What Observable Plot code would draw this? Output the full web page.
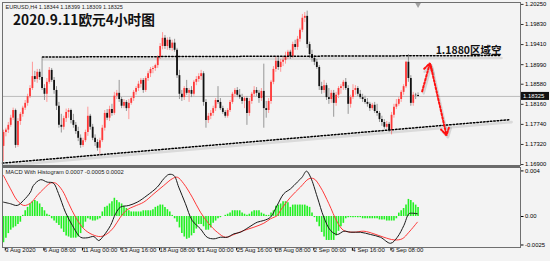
<!DOCTYPE html>
<html><head><meta charset="utf-8">
<script src="https://cdn.jsdelivr.net/npm/d3@7"></script>
<script src="https://cdn.jsdelivr.net/npm/@observablehq/plot@0.6"></script>
<style>
html,body{margin:0;padding:0;background:#f3f3f3;}
#chart{position:relative;width:550px;height:261px;overflow:hidden;background:#f3f3f3;}
#chart svg{position:absolute;left:0;top:0;overflow:visible;}
</style></head><body><div id="chart"></div>
<script>
// ---------- DATA ----------
const symbol = "EURUSD,H4";
const titleText = "2020.9.11欧元4小时图";
const zoneLabel = "1.1880区域空";
const tickIndex = [0,16,32,48,64,80,96,112,128,144,160];
const tickLabels = ["3 Aug 2020","6 Aug 08:00","11 Aug 00:00","13 Aug 16:00","18 Aug 08:00","21 Aug 00:00","25 Aug 16:00","28 Aug 08:00","2 Sep 00:00","4 Sep 16:00","9 Sep 08:00"];
const priceTicks = [1.20250,1.19830,1.19410,1.18990,1.18580,1.18160,1.17740,1.17320,1.16900];
const macdTicks = [0.004, 0, -0.0025];
const macdTickLabels = ["0.004","0.00","-0.0025"];
const macdReadout = ["0.0007","-0.0005","0.0002"];

const open = [
1.1728,1.1757,1.1762,1.1772,1.1787,1.1803,1.1730,1.1780,1.1795,1.1808,
1.1818,1.1832,1.1849,1.1874,1.1868,1.1883,1.1872,1.1849,1.1837,1.1862,
1.1887,1.1866,1.1845,1.1812,1.1772,1.1768,1.1786,1.1799,1.1803,1.1782,
1.1772,1.1759,1.1745,1.1730,1.1740,1.1757,1.1791,1.1768,1.1745,1.1736,
1.1724,1.1740,1.1766,1.1797,1.1787,1.1805,1.1797,1.1833,1.1839,1.1826,
1.1812,1.1820,1.1807,1.1818,1.1828,1.1841,1.1849,1.1858,1.1866,1.1845,
1.1870,1.1880,1.1889,1.1891,1.1897,1.1914,1.1937,1.1954,1.1937,1.1950,
1.1933,1.1944,1.1929,1.1876,1.1837,1.1830,1.1849,1.1839,1.1845,1.1837,
1.1862,1.1868,1.1874,1.1880,1.1820,1.1782,1.1791,1.1797,1.1807,1.1824,
1.1820,1.1807,1.1799,1.1791,1.1803,1.1820,1.1837,1.1845,1.1835,1.1830,
1.1822,1.1828,1.1797,1.1822,1.1837,1.1845,1.1839,1.1828,1.1843,1.1807,
1.1803,1.1822,1.1862,1.1889,1.1906,1.1893,1.1904,1.1908,1.1916,1.1925,
1.1916,1.1941,1.1935,1.1952,1.1971,1.1996,1.2000,1.1941,1.1920,1.1912,
1.1904,1.1893,1.1853,1.1845,1.1855,1.1830,1.1826,1.1839,1.1818,1.1835,
1.1849,1.1853,1.1862,1.1849,1.1816,1.1830,1.1845,1.1849,1.1837,1.1830,
1.1826,1.1820,1.1816,1.1807,1.1814,1.1801,1.1797,1.1784,1.1778,1.1768,
1.1774,1.1761,1.1793,1.1810,1.1816,1.1826,1.1841,1.1853,1.1904,1.1870,
1.1818,1.1835,1.18344];
const high = [
1.1762,1.1766,1.1778,1.1793,1.1808,1.1806,1.1786,1.1799,1.1812,1.1824,
1.1837,1.1855,1.1904,1.1885,1.1889,1.1889,1.1914,1.1857,1.1870,1.1893,
1.1891,1.1872,1.1853,1.1820,1.1795,1.1791,1.1806,1.1807,1.1806,1.1795,
1.1778,1.1768,1.1752,1.1745,1.1762,1.1810,1.1795,1.1774,1.1752,1.1742,
1.1745,1.1772,1.1803,1.1805,1.1812,1.1816,1.1841,1.1845,1.1866,1.1830,
1.1826,1.1824,1.1826,1.1832,1.1845,1.1853,1.1864,1.1870,1.1870,1.1874,
1.1885,1.1893,1.1895,1.1900,1.1918,1.1943,1.1966,1.1960,1.1955,1.1956,
1.1950,1.1952,1.1933,1.1887,1.1845,1.1853,1.1866,1.1849,1.1853,1.1866,
1.1874,1.1880,1.1887,1.1884,1.1826,1.1797,1.1803,1.1812,1.1828,1.1853,
1.1828,1.1812,1.1803,1.1807,1.1824,1.1841,1.1849,1.1851,1.1847,1.1837,
1.1832,1.1832,1.1828,1.1841,1.1853,1.1851,1.1845,1.1849,1.1900,1.1822,
1.1828,1.1866,1.1895,1.1916,1.1916,1.1910,1.1916,1.1925,1.1929,1.1929,
1.1946,1.1950,1.1958,1.1975,1.2004,1.2008,1.2011,1.1946,1.1929,1.1918,
1.1910,1.1897,1.1862,1.1866,1.1860,1.1849,1.1845,1.1845,1.1841,1.1853,
1.1857,1.1866,1.1870,1.1855,1.1835,1.1857,1.1855,1.1853,1.1845,1.1837,
1.1833,1.1828,1.1820,1.1818,1.1820,1.1816,1.1801,1.1791,1.1784,1.1780,
1.1778,1.1799,1.1816,1.1826,1.1830,1.1845,1.1857,1.1906,1.1920,1.1876,
1.1841,1.1839,1.18399];
const low = [
1.1696,1.1748,1.1755,1.1768,1.1782,1.1724,1.1726,1.1772,1.1789,1.1803,
1.1812,1.1828,1.1845,1.1862,1.1860,1.1866,1.1845,1.1824,1.1820,1.1858,
1.1862,1.1837,1.1803,1.1766,1.1756,1.1762,1.1778,1.1787,1.1775,1.1766,
1.1753,1.1738,1.1724,1.1726,1.1736,1.1749,1.1762,1.1740,1.1728,1.1718,
1.1711,1.1736,1.1760,1.1782,1.1780,1.1791,1.1793,1.1826,1.1820,1.1807,
1.1807,1.1801,1.1784,1.1814,1.1822,1.1835,1.1843,1.1850,1.1839,1.1841,
1.1864,1.1872,1.1880,1.1885,1.1891,1.1910,1.1930,1.1931,1.1929,1.1929,
1.1927,1.1925,1.1870,1.1826,1.1822,1.1824,1.1835,1.1820,1.1830,1.1833,
1.1855,1.1862,1.1866,1.1812,1.1766,1.1776,1.1784,1.1791,1.1801,1.1816,
1.1803,1.1795,1.1787,1.1787,1.1799,1.1816,1.1830,1.1830,1.1826,1.1816,
1.1807,1.1772,1.1791,1.1816,1.1832,1.1832,1.1818,1.1822,1.1766,1.1787,
1.1797,1.1816,1.1857,1.1883,1.1887,1.1883,1.1895,1.1900,1.1910,1.1910,
1.1912,1.1929,1.1929,1.1946,1.1966,1.1987,1.1933,1.1912,1.1904,1.1897,
1.1889,1.1845,1.1837,1.1839,1.1824,1.1816,1.1818,1.1789,1.1812,1.1828,
1.1837,1.1845,1.1845,1.1795,1.1808,1.1826,1.1835,1.1832,1.1826,1.1820,
1.1816,1.1810,1.1801,1.1803,1.1797,1.1791,1.1778,1.1770,1.1764,1.1764,
1.1757,1.1752,1.1787,1.1805,1.1812,1.1820,1.1835,1.1849,1.1862,1.1812,
1.1812,1.1826,1.18309];
const close = [
1.1757,1.1762,1.1772,1.1787,1.1803,1.1730,1.1780,1.1795,1.1808,1.1818,
1.1832,1.1849,1.1874,1.1868,1.1883,1.1872,1.1849,1.1837,1.1862,1.1887,
1.1866,1.1845,1.1812,1.1772,1.1768,1.1786,1.1799,1.1803,1.1782,1.1772,
1.1759,1.1745,1.1730,1.1740,1.1757,1.1791,1.1768,1.1745,1.1736,1.1724,
1.1740,1.1766,1.1797,1.1787,1.1805,1.1797,1.1833,1.1839,1.1826,1.1812,
1.1820,1.1807,1.1818,1.1828,1.1841,1.1849,1.1858,1.1866,1.1845,1.1870,
1.1880,1.1889,1.1891,1.1897,1.1914,1.1937,1.1954,1.1937,1.1950,1.1933,
1.1944,1.1929,1.1876,1.1837,1.1830,1.1849,1.1839,1.1845,1.1837,1.1862,
1.1868,1.1874,1.1880,1.1820,1.1782,1.1791,1.1797,1.1807,1.1824,1.1820,
1.1807,1.1799,1.1791,1.1803,1.1820,1.1837,1.1845,1.1835,1.1830,1.1822,
1.1828,1.1797,1.1822,1.1837,1.1845,1.1839,1.1828,1.1843,1.1807,1.1803,
1.1822,1.1862,1.1889,1.1906,1.1893,1.1904,1.1908,1.1916,1.1925,1.1916,
1.1941,1.1935,1.1952,1.1971,1.1996,1.2000,1.1941,1.1920,1.1912,1.1904,
1.1893,1.1853,1.1845,1.1855,1.1830,1.1826,1.1839,1.1818,1.1835,1.1849,
1.1853,1.1862,1.1849,1.1816,1.1830,1.1845,1.1849,1.1837,1.1830,1.1826,
1.1820,1.1816,1.1807,1.1814,1.1801,1.1797,1.1784,1.1778,1.1768,1.1774,
1.1761,1.1793,1.1810,1.1816,1.1826,1.1841,1.1853,1.1904,1.1870,1.1818,
1.1835,1.1834,1.18325];

const hist = [
-0.0023,-0.0019,-0.0015,-0.0012,-0.0010,-0.0009,-0.0007,-0.0005,0.0001,0.0005,
0.0008,0.0011,0.0013,0.0014,0.0013,0.0011,0.0008,0.0005,0.0002,0.0001,
-0.0002,-0.0004,-0.0006,-0.0008,-0.0011,-0.0014,-0.0017,-0.0018,-0.0019,-0.0019,
-0.0019,-0.0018,-0.0015,-0.0010,-0.0005,-0.0002,-0.0003,-0.0004,-0.0004,-0.0003,
-0.0002,0.0004,0.0008,0.0009,0.0011,0.0013,0.0016,0.0014,0.0012,0.0011,
0.0009,0.0007,0.0005,0.0004,0.0004,0.0004,0.0004,0.0004,0.0005,0.0005,
0.0005,0.0005,0.0006,0.0008,0.0009,0.0010,0.0010,0.0008,0.0006,0.0004,
0.0001,-0.0002,-0.0005,-0.0010,-0.0015,-0.0018,-0.0020,-0.0019,-0.0017,-0.0015,
-0.0011,-0.0007,-0.0007,-0.0009,-0.0012,-0.0012,-0.0010,-0.0006,-0.0004,-0.0002,
-0.0001,0.0000,0.0001,0.0002,0.0003,0.0005,0.0005,0.0005,0.0005,0.0003,
0.0002,0.0001,0.0002,0.0004,0.0005,0.0005,0.0005,0.0003,0.0002,0.0001,
0.0001,0.0003,0.0005,0.0009,0.0010,0.0011,0.0013,0.0013,0.0012,0.0008,
0.0010,0.0010,0.0010,0.0010,0.0010,0.0010,0.0009,0.0008,0.0003,-0.0001,
-0.0005,-0.0009,-0.0014,-0.0018,-0.0021,-0.0021,-0.0021,-0.0021,-0.0017,-0.0013,
-0.0009,-0.0006,-0.0002,-0.0001,-0.0001,-0.0001,-0.0001,-0.0001,-0.0001,-0.0002,
-0.0002,-0.0002,-0.0002,-0.0002,-0.0002,-0.0002,-0.0003,-0.0003,-0.0003,-0.0004,
-0.0004,-0.0004,-0.0004,-0.0002,0.0003,0.0005,0.0007,0.0010,0.0015,0.0014,
0.0012,0.0010,0.0008];

// MACD main line (black), read at sample bar positions
const macdIdx = [0,2.9,5.7,8.3,11.2,12.4,15.4,18.1,20.7,22.8,25.7,28.6,32.0,34.7,37.5,39.5,41.6,44.4,46.5,48.5,52.0,55.5,59.6,63.8,66.5,68.6,70.7,72.7,75.5,78.3,81.7,84.5,87.3,90.0,92.8,95.6,98.3,101.8,105.3,108.0,110.8,113.6,116.3,119.1,121.9,123.9,125.7,127.4,130.2,132.9,135.7,138.5,141.2,144.0,148.1,152.3,156.4,160.6,163.4,166.1,168.2,169.6,171.7];
const macdVal = [0.00126,0.00112,0.00097,0.00141,0.00214,0.00272,0.00323,0.00302,0.00293,0.00202,0.00038,-0.00079,-0.00182,-0.00187,-0.00176,-0.00211,-0.00167,-0.00079,0.00024,0.00082,0.00097,0.00126,0.00185,0.00258,0.00331,0.00369,0.00360,0.00258,0.00112,-0.00035,-0.00108,-0.00182,-0.00196,-0.00182,-0.00182,-0.00152,-0.00138,-0.00094,-0.00050,-0.00035,-0.00006,0.00100,0.00200,0.00243,0.00302,0.00345,0.00398,0.00345,0.00170,-0.00006,-0.00123,-0.00158,-0.00129,-0.00138,-0.00138,-0.00158,-0.00182,-0.00235,-0.00182,-0.00079,0.00024,0.00029,0.00024];
// Signal line (red)
const signalIdx = [0,2.9,5.7,8.4,11.2,14.0,16.7,19.5,21.6,24.4,27.1,29.9,33.3,36.8,40.2,43.0,45.8,48.5,51.3,54.1,58.2,62.4,66.5,70.0,72.1,74.8,78.3,81.7,85.2,88.7,92.1,95.6,99.7,103.9,108.0,110.8,113.6,114.9,119.1,123.2,126.7,128.8,131.5,135.0,138.5,141.2,145.4,149.5,153.7,157.8,162.0,165.4,168.2,171.7];
const signalVal = [0.00360,0.00243,0.00141,0.00097,0.00117,0.00185,0.00243,0.00293,0.00293,0.00229,0.00112,-0.00006,-0.00108,-0.00158,-0.00176,-0.00152,-0.00094,-0.00006,0.00059,0.00088,0.00126,0.00200,0.00272,0.00331,0.00345,0.00287,0.00170,0.00038,-0.00064,-0.00138,-0.00182,-0.00158,-0.00123,-0.00094,-0.00059,-0.00020,0.00009,0.00053,0.00170,0.00258,0.00331,0.00331,0.00258,0.00112,-0.00050,-0.00123,-0.00138,-0.00129,-0.00152,-0.00182,-0.00205,-0.00196,-0.00138,-0.00050];

// Hand-drawn annotations (bar index, price)
const resistIdx = [16.2, 206.2], resistPrice = [1.1915, 1.1918];
const supportIdx = [-0.4, 210.4], supportPrice = [1.1693, 1.1784];
const arrowFromIdx = [173.7, 177.2], arrowFromPrice = [1.1843, 1.1898];
const arrowToIdx = [176.9, 183.8], arrowToPrice = [1.1902, 1.1751];
const zoneLabelIdx = 179.3, zoneLabelPrice = 1.1929;

// ---------- BUILD ----------
const W = 550, H = 261;
const xDomain = [-0.41, 214.5];
const font = "'Liberation Sans', Arial, sans-serif";
const cjk = "'Noto Sans CJK SC', 'Liberation Sans', sans-serif";
const bars = open.map((o, i) => ({i, o, h: high[i], l: low[i], c: close[i], up: close[i] > o}));
const upBars = bars.filter(d => d.up), dnBars = bars.filter(d => !d.up);
const last = bars[bars.length - 1];
const header = `${symbol} ${last.o.toFixed(5)} ${last.h.toFixed(5)} ${last.l.toFixed(5)} ${last.c.toFixed(5)}`;
const resist = resistIdx.map((x, k) => ({x, y: resistPrice[k]}));
const support = supportIdx.map((x, k) => ({x, y: supportPrice[k]}));
const arrows = arrowFromIdx.map((x1, k) => ({x1, y1: arrowFromPrice[k], x2: arrowToIdx[k], y2: arrowToPrice[k]}));
const dots = "1.5,1.9";

const pricePlot = Plot.plot({
  width: W, height: H, marginTop: 2, marginBottom: 96, marginLeft: 2, marginRight: 30,
  style: {background: "transparent", fontFamily: font, color: "#000", overflow: "visible"},
  x: {domain: xDomain, axis: null},
  y: {domain: [1.1688, 1.2029], axis: null},
  marks: [
    Plot.ruleY([last.c], {stroke: "#bdbdbd", strokeWidth: 1}),
    Plot.ruleX(upBars, {x: "i", y1: "l", y2: "h", stroke: "#ff8f8f", strokeWidth: 0.9}),
    Plot.ruleX(dnBars, {x: "i", y1: "l", y2: "h", stroke: "#8c8c8c", strokeWidth: 0.9}),
    Plot.ruleX(upBars, {x: "i", y1: "o", y2: "c", stroke: "#ff3838", strokeWidth: 1.8}),
    Plot.ruleX(dnBars, {x: "i", y1: "o", y2: "c", stroke: "#111", strokeWidth: 1.8}),
    // soft shadows of the drawn lines
    Plot.line(resist, {x: "x", y: "y", stroke: "#000", strokeOpacity: 0.1, strokeWidth: 2.6, dy: 2.5, dx: 1}),
    Plot.line(support, {x: "x", y: "y", stroke: "#000", strokeOpacity: 0.1, strokeWidth: 2.6, dy: 2.5, dx: 1}),
    Plot.arrow(arrows, {x1: "x1", y1: "y1", x2: "x2", y2: "y2", stroke: "#000", strokeOpacity: 0.12, strokeWidth: 2.4, headLength: 6, dx: 1.5, dy: 2}),
    Plot.line(resist, {x: "x", y: "y", stroke: "#000", strokeWidth: 1.5, strokeDasharray: dots}),
    Plot.line(support, {x: "x", y: "y", stroke: "#000", strokeWidth: 1.5, strokeDasharray: dots}),
    Plot.arrow(arrows, {x1: "x1", y1: "y1", x2: "x2", y2: "y2", stroke: "#ff1010", strokeWidth: 2, headLength: 6, strokeDasharray: "2,1.8"}),
    Plot.text([zoneLabel], {x: zoneLabelIdx, y: zoneLabelPrice, text: d => d, textAnchor: "start", fontSize: 10.5, fontWeight: "bold", fontFamily: cjk, fill: "#111"}),
    Plot.text([header], {frameAnchor: "top-left", text: d => d, dx: 3, dy: 2.5, fontSize: 5.5, lineAnchor: "top", fill: "#222"}),
    Plot.text([titleText], {frameAnchor: "top-left", text: d => d, dx: 10.5, dy: 12.8, fontSize: 13.7, fontWeight: "bold", fontFamily: cjk, lineAnchor: "top", fill: "#111"}),
    Plot.dot([last.i], {x: d => d, frameAnchor: "top", symbol: "triangle", r: 2.2, rotate: 180, fill: "#a0a0a0", dy: 2}),
    Plot.axisY({anchor: "right", ticks: priceTicks, tickFormat: d => d.toFixed(5), tickSize: 2.5, tickPadding: 2, fontSize: 5.9, stroke: "#333"}),
    Plot.frame({stroke: "#6f6f6f"})
  ]
});

const mainLine = macdIdx.map((x, k) => ({x, y: macdVal[k]}));
const sigLine = signalIdx.map((x, k) => ({x, y: signalVal[k]}));
const histBars = hist.map((v, i) => ({i, v}));
const macdTop = 0.0043;

const macdPlot = Plot.plot({
  width: W, height: H, marginTop: 167, marginBottom: 14, marginLeft: 2, marginRight: 30,
  style: {background: "transparent", fontFamily: font, color: "#000", overflow: "visible"},
  x: {domain: xDomain, axis: null},
  y: {domain: [-0.00272, macdTop], axis: null},
  marks: [
    Plot.ruleX(histBars, {x: "i", y1: 0, y2: "v", stroke: "#22f022", strokeWidth: 1.6}),
    Plot.line(sigLine, {x: "x", y: "y", stroke: "#ff3a3a", strokeWidth: 1, curve: "catmull-rom"}),
    Plot.line(mainLine, {x: "x", y: "y", stroke: "#1a1a1a", strokeWidth: 1, curve: "catmull-rom"}),
    Plot.text([`MACD With Histogram ${macdReadout.join(" ")}`], {frameAnchor: "top-left", text: d => d, dx: 3, dy: 2.5, fontSize: 5.8, lineAnchor: "top", fill: "#222"}),
    Plot.axisY({anchor: "right", ticks: macdTicks, tickFormat: d => macdTickLabels[macdTicks.indexOf(d)], tickSize: 2.5, tickPadding: 2, fontSize: 5.9}),
    Plot.axisX({anchor: "bottom", ticks: tickIndex, tickFormat: d => tickLabels[tickIndex.indexOf(d)], tickSize: 3.5, tickPadding: -3.2, textAnchor: "start", dx: 1.8, fontSize: 6, lineAnchor: "top", fill: "#111"}),
    Plot.frame({stroke: "#6f6f6f"}),
    // thick separator between the two panes, at the top edge of the MACD pane
    Plot.ruleY([macdTop], {stroke: "#6a6a6a", strokeWidth: 2.6, dy: -1})
  ]
});

const root = document.getElementById("chart");
root.appendChild(pricePlot);
root.appendChild(macdPlot);

// current price box on the right axis, placed via the plot's own scales
const ys = pricePlot.scale("y").apply(last.c);
const g = d3.select(pricePlot).append("g");
g.append("rect").attr("x", 521).attr("y", ys - 4).attr("width", 28).attr("height", 8).attr("fill", "#111");
g.append("text").attr("x", 523).attr("y", ys).attr("dy", "0.35em").attr("text-anchor", "start")
  .attr("font-size", 5.9).attr("font-family", font).attr("fill", "#fff").text(last.c.toFixed(5));
</script></body></html>
